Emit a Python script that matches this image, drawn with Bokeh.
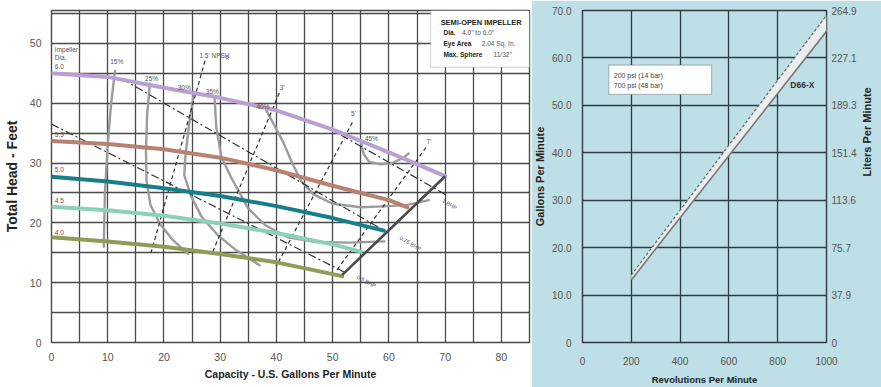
import math
from bokeh.plotting import figure
from bokeh.layouts import row
from bokeh.models import FixedTicker, Range1d, LinearAxis, Label, BoxAnnotation, GlobalInlineStyleSheet
from bokeh.embed import file_html
from bokeh.resources import INLINE

# ---------------- data: pump curves (left) ----------------
flow_60 = [0, 10, 20, 30, 40, 50, 60, 70]
head_60 = [45.0, 44.4, 42.6, 40.9, 38.8, 35.6, 31.8, 27.8]
flow_55 = [0, 10, 20, 30, 40, 50, 55, 60, 63.3]
head_55 = [33.7, 33.2, 32.3, 30.9, 28.8, 26.2, 25.0, 23.8, 22.6]
flow_50 = [0, 10, 20, 30, 40, 50, 59.1]
head_50 = [27.7, 26.9, 25.8, 24.5, 22.8, 20.8, 18.7]
flow_45 = [0, 10, 20, 30, 40, 50, 55]
head_45 = [22.7, 22.1, 21.2, 19.9, 18.3, 16.4, 15.2]
flow_40 = [0, 10, 20, 30, 40, 51.7]
head_40 = [17.6, 16.9, 16.0, 14.8, 13.4, 11.1]
max_flow = [51.7, 70]
max_head = [11.3, 27.8]

eff15_q = [11.3, 10.6, 10.0, 9.5, 9.3]
eff15_h = [45.4, 40.0, 33.0, 25.0, 16.0]
eff25_q = [17.5, 17.0, 16.8, 16.9, 17.6, 19.3, 21.5, 24.3]
eff25_h = [43.3, 38.0, 32.0, 27.0, 23.0, 19.8, 17.2, 14.8]
eff30_q = [25.3, 24.4, 23.8, 23.6, 24.8, 26.7, 29.5, 32.6, 37.0]
eff30_h = [41.6, 36.0, 31.0, 28.0, 24.5, 21.0, 18.0, 15.6, 12.9]
eff35_q = [29.0, 29.3, 30.2, 32.0, 34.9, 38.0, 42.0, 47.0, 53.0, 59.2]
eff35_h = [40.9, 36.0, 31.0, 27.5, 22.5, 19.6, 17.6, 16.8, 16.7, 16.9]
eff40_q = [38.2, 39.8, 41.2, 42.8, 44.4, 46.5, 50.0, 55.0, 60.0, 63.3, 67.1]
eff40_h = [38.8, 36.0, 33.5, 30.0, 27.0, 24.8, 23.2, 22.6, 22.8, 23.0, 23.8]
eff45_q = [55.0, 55.5, 56.5, 58.5, 60.5, 62.5, 63.5]
eff45_h = [33.6, 31.5, 30.2, 29.8, 30.0, 30.8, 31.6]

npsh15_q = [27.3, 17.7]
npsh15_h = [47.1, 15.0]
npsh3_q = [40.5, 28.5]
npsh3_h = [41.7, 14.8]
npsh5_q = [53.5, 40.0]
npsh5_h = [36.8, 12.8]
npsh7_q = [66.6, 50.5]
npsh7_h = [32.6, 11.8]

bhp1_q = [49.0, 70.5]
bhp1_h = [36.0, 24.5]
bhp075_q = [12.5, 59.0]
bhp075_h = [44.1, 18.8]
bhp05_q = [0.0, 52.0]
bhp05_h = [36.5, 11.8]

left_x_ticks = [0, 10, 20, 30, 40, 50, 60, 70, 80]
left_y_ticks = [0, 10, 20, 30, 40, 50]

# ---------------- data: speed chart (right) ----------------
rpm = [200, 1000]
gpm_200psi = [14.2, 69.0]
gpm_700psi = [13.2, 65.6]
rpm_ticks = [0, 200, 400, 600, 800, 1000]
gpm_ticks = [0, 10, 20, 30, 40, 50, 60, 70]
gpm_labels = ["0", "10.0", "20.0", "30.0", "40.0", "50.0", "60.0", "70.0"]
lpm_ticks = [0, 37.9, 75.7, 113.6, 151.4, 189.3, 227.1, 264.9]
lpm_labels = ["0", "37.9", "75.7", "113.6", "151.4", "189.3", "227.1", "264.9"]

FONT = "Liberation Sans"
TICK_C = "#555555"
GRID_C = "#4a4a4a"

def lab(p, x, y, t, size="7px", align="center", color="#555555", style="normal", angle=0.0, base="middle"):
    p.add_layout(Label(x=x, y=y, text=t, text_font=FONT, text_font_size=size,
                       text_align=align, text_baseline=base, text_color=color,
                       text_font_style=style, angle=angle))

def style_axis(ax, tick_size, label_size):
    ax.axis_line_color = None
    ax.major_tick_line_color = None
    ax.minor_tick_line_color = None
    ax.major_label_text_font = FONT
    ax.major_label_text_font_size = tick_size
    ax.major_label_text_color = TICK_C
    ax.axis_label_text_font = FONT
    ax.axis_label_text_font_style = "bold"
    ax.axis_label_text_font_size = label_size
    ax.axis_label_text_color = "#222222"

# ================= LEFT FIGURE =================
p1 = figure(width=531, height=387, x_range=Range1d(0, 85), y_range=Range1d(0, 55.5),
            output_backend="svg", toolbar_location=None,
            min_border_left=49, min_border_right=2, min_border_top=9, min_border_bottom=34)
p1.background_fill_color = "white"
p1.border_fill_color = "white"
p1.outline_line_color = GRID_C
p1.outline_line_width = 1.4

xa1 = p1.below[0]
ya1 = p1.left[0]
xa1.ticker = FixedTicker(ticks=left_x_ticks)
ya1.ticker = FixedTicker(ticks=left_y_ticks)
p1.xgrid.ticker = FixedTicker(ticks=list(range(0, 86, 5)))
p1.ygrid.ticker = FixedTicker(ticks=list(range(0, 56, 5)))
for g in (p1.xgrid, p1.ygrid):
    g.grid_line_color = GRID_C
    g.grid_line_width = 1.3
style_axis(xa1, "10.5px", "10.5px")
style_axis(ya1, "10.5px", "14px")
xa1.axis_label = "Capacity - U.S. Gallons Per Minute"
xa1.major_label_standoff = 4
xa1.axis_label_standoff = 4
ya1.axis_label = "Total Head - Feet"
ya1.major_label_standoff = 4
ya1.axis_label_standoff = 7

# efficiency curves
for q, h in [(eff15_q, eff15_h), (eff25_q, eff25_h), (eff30_q, eff30_h),
             (eff35_q, eff35_h), (eff40_q, eff40_h), (eff45_q, eff45_h)]:
    p1.line(q, h, line_color="#9c9c9c", line_width=2.4, line_cap="round", line_join="round")

# NPSH dashed lines
for q, h in [(npsh15_q, npsh15_h), (npsh3_q, npsh3_h), (npsh5_q, npsh5_h), (npsh7_q, npsh7_h)]:
    p1.line(q, h, line_color="#333333", line_width=1.2, line_dash="4 3")

# BHP dash-dot lines
for q, h in [(bhp1_q, bhp1_h), (bhp075_q, bhp075_h), (bhp05_q, bhp05_h)]:
    p1.line(q, h, line_color="#333333", line_width=1.2, line_dash="8 3 2 3")

# impeller curves
for q, h, c in [(flow_60, head_60, "#b8a0d2"), (flow_55, head_55, "#b7826f"),
                (flow_50, head_50, "#177f89"), (flow_45, head_45, "#8dd0b9"),
                (flow_40, head_40, "#8f9c56")]:
    p1.line(q, h, line_color=c, line_width=4, line_cap="round", line_join="round")
p1.line(max_flow, max_head, line_color="#4a4a4a", line_width=2.6)

for t, y in [("Impeller", 48.9), ("Dia.", 47.6), ("6.0", 46.2), ("5.5", 34.7),
             ("5.0", 28.9), ("4.5", 23.7), ("4.0", 18.4)]:
    lab(p1, 0.6, y, t, size="6.5px", align="left")
for t, x, y in [("15%", 11.6, 46.9), ("25%", 17.8, 44.2), ("30%", 23.6, 42.7),
                ("35%", 28.6, 42.0), ("40%", 37.6, 39.4), ("45%", 56.9, 34.1),
                ("3'", 41.0, 42.7), ("5'", 53.7, 38.2), ("7'", 67.1, 33.6)]:
    lab(p1, x, y, t, size="6.5px")
lab(p1, 26.3, 48.0, "1.5' NPSH", size="6.5px", align="left")
lab(p1, 31.0, 47.5, "R", size="4.5px", align="left")
lab(p1, 69.6, 23.8, "1 BHP", size="5.5px", align="left", angle=-0.54)
lab(p1, 62.0, 17.6, "0.75 BHP", size="5.5px", align="left", angle=-0.54)
lab(p1, 54.4, 11.0, "0.5 BHP", size="5.5px", align="left", angle=-0.48)

p1.add_layout(BoxAnnotation(left=67.4, right=85, top=55.5, bottom=46.0, fill_color="white",
                            fill_alpha=1.0, line_color="#888888", line_width=1.2))
lab(p1, 69.2, 53.5, "SEMI-OPEN IMPELLER", size="7.4px", align="left", color="#222222", style="bold")
for t1, t2, y, x2 in [("Dia.", "4.0\" to 6.0\"", 51.8, 73.0),
                      ("Eye Area", "2.04 Sq. In.", 49.9, 76.5),
                      ("Max. Sphere", "11/32\"", 48.1, 78.6)]:
    lab(p1, 69.7, y, t1, size="6.6px", align="left", color="#222222", style="bold")
    lab(p1, x2, y, t2, size="6.6px", align="left", color="#555555")

# ================= RIGHT FIGURE =================
BLUE_BG = "#bddfe5"
p2 = figure(width=350, height=387, x_range=Range1d(0, 1000), y_range=Range1d(0, 70),
            output_backend="svg", toolbar_location=None,
            min_border_left=41, min_border_right=52, min_border_top=10, min_border_bottom=41)
p2.background_fill_color = BLUE_BG
p2.border_fill_color = BLUE_BG
p2.outline_line_color = "#2e3c42"
p2.outline_line_width = 1.4

xa2 = p2.below[0]
ya2 = p2.left[0]
xa2.ticker = FixedTicker(ticks=rpm_ticks)
ya2.ticker = FixedTicker(ticks=gpm_ticks)
ya2.major_label_overrides = dict(zip(gpm_ticks, gpm_labels))
xa2.axis_label = "Revolutions Per Minute"
ya2.axis_label = "Gallons Per Minute"

p2.extra_y_ranges = {"lpm": Range1d(0, 264.9)}
rax = LinearAxis(y_range_name="lpm", ticker=FixedTicker(ticks=lpm_ticks),
                 major_label_overrides=dict(zip(lpm_ticks, lpm_labels)),
                 axis_label="Liters Per Minute")
p2.add_layout(rax, "right")

for g in (p2.xgrid, p2.ygrid):
    g.grid_line_color = "#2e3c42"
    g.grid_line_width = 1.3
style_axis(xa2, "10px", "9.5px")
style_axis(ya2, "10px", "11px")
style_axis(rax, "10px", "11px")
xa2.major_label_standoff = 8
xa2.axis_label_standoff = 6
ya2.major_label_standoff = 5
ya2.axis_label_standoff = 3
rax.major_tick_out = 0
rax.major_tick_in = 0
rax.major_label_standoff = 5
rax.axis_label_standoff = 7
rax.axis_label_orientation = math.pi / 2

p2.varea(x=rpm, y1=gpm_700psi, y2=gpm_200psi, fill_color="#eceeee")
p2.line(rpm, gpm_200psi, line_color="#666666", line_width=1.2, line_dash="3 2")
p2.line(rpm, gpm_700psi, line_color="#777777", line_width=1.6)

p2.add_layout(BoxAnnotation(left=108, right=529, top=58.5, bottom=52.3, fill_color="white",
                            fill_alpha=1.0, line_color="#333333", line_width=1.2))
lab(p2, 128, 56.4, "200 psi (14 bar)", size="7px", align="left", color="#444444")
lab(p2, 128, 54.1, "700 psi (48 bar)", size="7px", align="left", color="#444444")
p2.segment(x0=[350], y0=[56.4], x1=[505], y1=[56.4], line_color="#555555", line_width=1.2, line_dash="3 2")
p2.segment(x0=[350], y0=[54.1], x1=[505], y1=[54.1], line_color="#666666", line_width=1.6)
lab(p2, 901, 54.3, "D66-X", size="8.5px", align="center", color="#333333", style="bold")

layout = row(p1, p2, spacing=0,
             stylesheets=[GlobalInlineStyleSheet(css="html, body { margin: 0; padding: 0; overflow: hidden; }")])

open("out.html", "w").write(file_html(layout, INLINE))
